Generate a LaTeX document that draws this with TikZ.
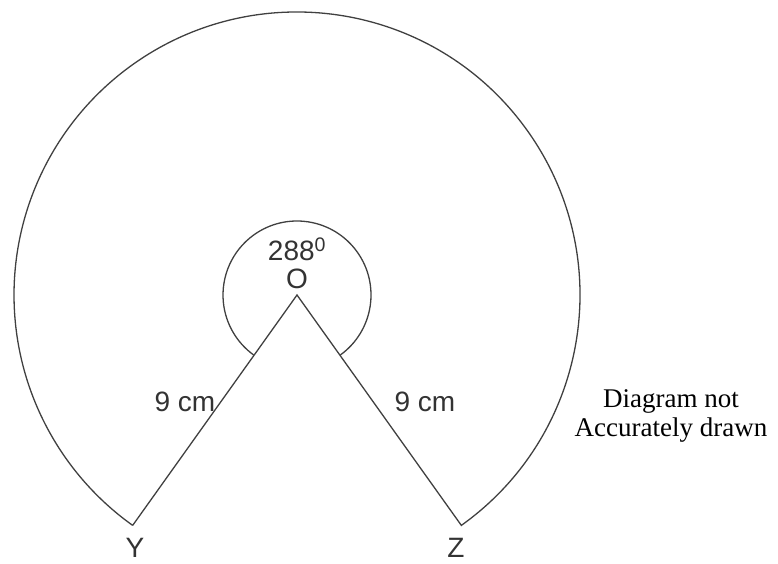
\documentclass[tikz,border=0pt]{standalone}
\usepackage{fontspec}
\setmainfont{Liberation Sans}
\newfontfamily\notefont{Liberation Serif}
\usepackage{tikz}
\usetikzlibrary{calc}

\begin{document}
\begin{tikzpicture}[x=1pt, y=1pt]
    % Styles
    \tikzstyle{edge} = [draw=black!75, line width=1.3pt]
    \tikzstyle{label} = [font=\fontsize{28}{30}\selectfont, inner sep=0pt, text=black!80]
    \tikzstyle{note} = [font=\notefont\fontsize{27}{29}\selectfont, align=center, inner sep=0pt]

    \useasboundingbox (0, 0) rectangle (778, 563);

    % Points
    \coordinate (O) at (297, 268);
    \coordinate (Y) at ($(O) + (234.5:283)$);
    \coordinate (Z) at ($(O) + (305.5:283)$);

    % Sector and angle arc
    \draw[edge] (Y) -- (O) -- (Z) arc[start angle=305.5, end angle=594.5, radius=283];
    \draw[edge] ($(O) + (306:74)$) arc[start angle=306, end angle=594, radius=74];

    % Labels
    \node[label] (angle) at (297, 314) {288\textsuperscript{0}};
    \node[label] (lblO) at (297, 284) {O};
    \node[label] (lenY) at (185, 161) {9 cm};
    \node[label] (lenZ) at (425, 161) {9 cm};
    \node[label, anchor=base] (lblY) at (135, 6) {Y};
    \node[label, anchor=base] (lblZ) at (456, 6) {Z};
    \node[note] (remark) at (671, 147) {Diagram not\\Accurately drawn};
\end{tikzpicture}
\end{document}
